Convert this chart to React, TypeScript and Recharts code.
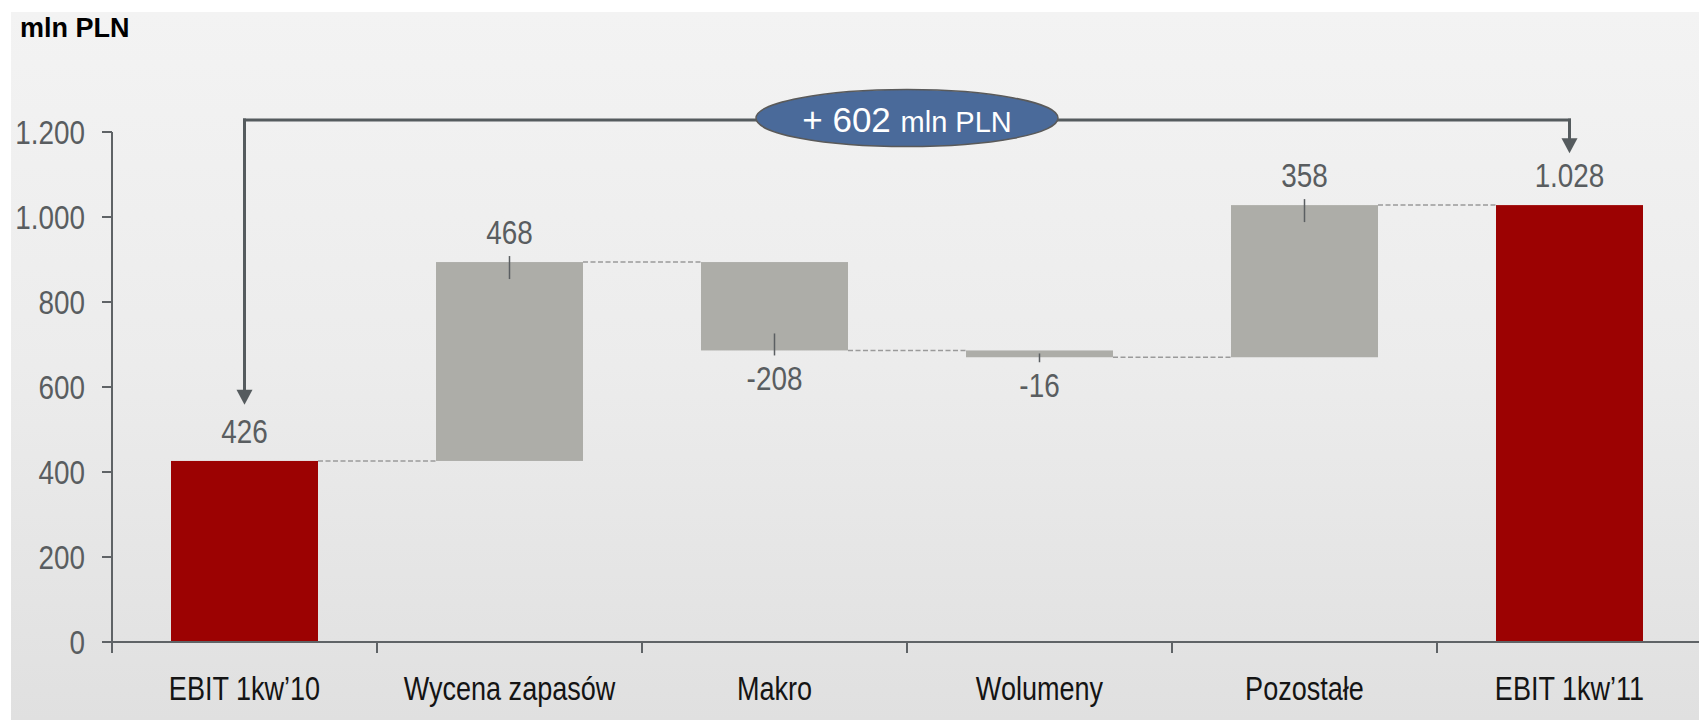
import React from 'react';
import {
  BarChart, Bar, XAxis, YAxis, ReferenceLine, ReferenceDot,
} from 'recharts';

const CATEGORIES = ['EBIT 1kw’10', 'Wycena zapasów', 'Makro', 'Wolumeny', 'Pozostałe', 'EBIT 1kw’11'];
const CHANGES = [426, 468, -208, -16, 358, 1028];
const IS_TOTAL = [true, false, false, false, false, true];
const Y_TICKS = [0, 200, 400, 600, 800, 1000, 1200];
const ARROW_LEVEL = 1228;
const LEFT_ARROW_TIP = 558;
const RIGHT_ARROW_TIP = 1150;

const RED = '#9c0202';
const GRAY = '#adada8';
const AXIS = '#5f6366';
const SANS = '"Liberation Sans", Arial, sans-serif';
// no Arial Narrow here, so squeeze Liberation Sans instead
const SQUEEZE = 0.82;

const CHART_W = 1702;
const CHART_H = 720;
const Y_AXIS_W = 112;
const BAND = (CHART_W - Y_AXIS_W) / CATEGORIES.length;
const GAP = 59;

const fmt = (n: number) => {
  const s = String(Math.abs(n)).replace(/\B(?=(\d{3})+(?!\d))/g, '.');
  return n < 0 ? '-' + s : s;
};

let running = 0;
const rows = CATEGORIES.map((name, i) => {
  const v = CHANGES[i];
  if (IS_TOTAL[i]) {
    running = v;
    return { name, range: [0, v], value: v, total: true };
  }
  const start = running;
  running += v;
  return { name, range: [Math.min(start, running), Math.max(start, running)], value: v, total: false };
});

const delta = CHANGES[CHANGES.length - 1] - CHANGES[0];

const NarrowText = ({ x, y, anchor, size, fill, children }: any) => (
  <text
    transform={`translate(${x} ${y}) scale(${SQUEEZE} 1)`}
    x={0} y={0} textAnchor={anchor} fontFamily={SANS} fontSize={size} fill={fill}
  >
    {children}
  </text>
);

const WaterfallBar = (p: any) => {
  const { x, y, width, height, payload, index } = p;
  const top = Math.min(y, y + height);
  const h = Math.abs(height);
  const bottom = top + h;
  const cx = x + width / 2;
  const neg = payload.value < 0;
  const endY = neg ? bottom : top;
  return (
    <g>
      <rect x={x} y={top} width={width} height={h} fill={payload.total ? RED : GRAY} />
      {!payload.total && (
        <line
          x1={cx} x2={cx}
          y1={neg ? Math.max(top + 3, bottom - 17) : top - 6}
          y2={neg ? bottom + 5 : top + 17}
          stroke="#5b5f62" strokeWidth={1.5}
        />
      )}
      <NarrowText x={cx} y={neg ? bottom + 40 : top - 18} anchor="middle" size={34} fill="#595d60">
        {fmt(payload.value)}
      </NarrowText>
      {index < rows.length - 1 && (
        <line
          x1={x + width} x2={x + width + 2 * GAP} y1={endY} y2={endY}
          stroke="#9a9a9a" strokeWidth={1.5} strokeDasharray="5 2.5"
        />
      )}
    </g>
  );
};

const CategoryTick = (p: any) => {
  const { x, y, payload } = p;
  return (
    <g>
      <line x1={x - BAND / 2} x2={x - BAND / 2} y1={y} y2={y + 11} stroke={AXIS} strokeWidth={2} />
      <NarrowText x={x} y={y + 58} anchor="middle" size={33} fill="#141414">
        {payload.value}
      </NarrowText>
    </g>
  );
};

const ValueTick = (p: any) => {
  const { x, y, payload } = p;
  return (
    <NarrowText x={x} y={y + 12} anchor="end" size={34} fill="#595d60">
      {fmt(payload.value)}
    </NarrowText>
  );
};

const Arrow = (p: any) => {
  const { x1, y1, x2, y2 } = p;
  return (
    <g>
      <line x1={x1} y1={y1} x2={x2} y2={y2 - 12} stroke="#555b5e" strokeWidth={3} strokeLinecap="square" />
      <polygon points={`${x2 - 8},${y2 - 15} ${x2 + 8},${y2 - 15} ${x2},${y2}`} fill="#555b5e" />
    </g>
  );
};

const Flat = (p: any) => {
  const { x1, y1, x2, y2 } = p;
  return <line x1={x1} y1={y1} x2={x2} y2={y2} stroke="#555b5e" strokeWidth={3} strokeLinecap="square" />;
};

const Badge = (p: any) => {
  const cx = p.cx + BAND / 2;
  const cy = p.cy;
  return (
    <g>
      <ellipse cx={cx} cy={cy - 2} rx={151} ry={28.5} fill="#4a6a9a" stroke="#5a5a5a" strokeWidth={1.5} />
      <text x={cx} y={cy + 12} textAnchor="middle" fill="#ffffff" fontFamily={SANS}>
        <tspan fontSize={35}>{'+ ' + fmt(delta) + ' '}</tspan>
        <tspan fontSize={29}>mln PLN</tspan>
      </text>
    </g>
  );
};

export default function App() {
  return (
    <div style={{ position: 'absolute', left: 0, top: 0, width: 1699, height: 720, overflow: 'hidden', background: '#ffffff' }}>
      <div
        style={{
          position: 'absolute', left: 11, top: 12, right: 0, bottom: 0,
          background: 'linear-gradient(to bottom, #f3f3f3 0%, #ececec 50%, #e0e0e0 100%)',
        }}
      />
      <div
        style={{
          position: 'absolute', left: 20, top: 12, fontFamily: SANS, fontWeight: 'bold',
          fontSize: 27, color: '#000', lineHeight: '32px',
        }}
      >
        mln PLN
      </div>
      <div style={{ position: 'absolute', left: 0, top: 0 }}>
        <BarChart
          width={CHART_W}
          height={CHART_H}
          data={rows}
          margin={{ top: 132, right: 0, bottom: 0, left: 0 }}
          barCategoryGap={GAP}
        >
          <XAxis
            dataKey="name"
            interval={0}
            height={78}
            tickSize={0}
            tickMargin={0}
            tickLine={false}
            axisLine={{ stroke: AXIS, strokeWidth: 2 }}
            tick={<CategoryTick />}
          />
          <YAxis
            width={Y_AXIS_W}
            domain={[0, 1200]}
            ticks={Y_TICKS}
            interval={0}
            tickSize={10}
            tickMargin={17}
            axisLine={{ stroke: AXIS, strokeWidth: 2 }}
            tickLine={{ stroke: AXIS, strokeWidth: 2 }}
            tick={<ValueTick />}
          />
          <Bar dataKey="range" shape={WaterfallBar} isAnimationActive={false} />
          <ReferenceLine
            ifOverflow="visible"
            segment={[{ x: CATEGORIES[0], y: ARROW_LEVEL }, { x: CATEGORIES[5], y: ARROW_LEVEL }]}
            shape={Flat}
          />
          <ReferenceLine
            ifOverflow="visible"
            segment={[{ x: CATEGORIES[0], y: ARROW_LEVEL }, { x: CATEGORIES[0], y: LEFT_ARROW_TIP }]}
            shape={Arrow}
          />
          <ReferenceLine
            ifOverflow="visible"
            segment={[{ x: CATEGORIES[5], y: ARROW_LEVEL }, { x: CATEGORIES[5], y: RIGHT_ARROW_TIP }]}
            shape={Arrow}
          />
          <ReferenceDot ifOverflow="visible" x={CATEGORIES[2]} y={ARROW_LEVEL} shape={Badge} />
        </BarChart>
      </div>
    </div>
  );
}
